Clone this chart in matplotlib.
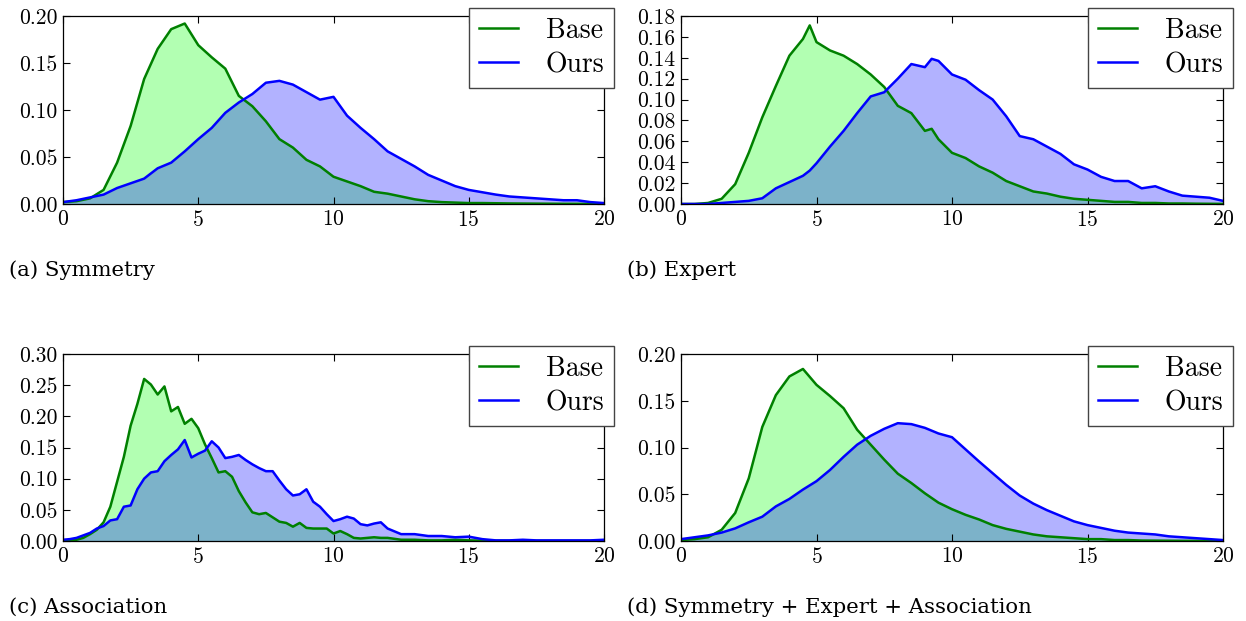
import numpy as np
import matplotlib
matplotlib.use("Agg")
import matplotlib.pyplot as plt
from matplotlib.ticker import FixedLocator, FormatStrFormatter

plt.rcParams['font.family'] = 'cmr10'
plt.rcParams['mathtext.fontset'] = 'cm'
plt.rcParams['axes.formatter.use_mathtext'] = True
plt.rcParams['axes.unicode_minus'] = False

# ---------------- data ----------------
series_labels = ["Base", "Ours"]
captions = ["(a) Symmetry", "(b) Expert", "(c) Association",
            "(d) Symmetry + Expert + Association"]

x_half = [i * 0.5 for i in range(41)]

# (a) Symmetry
x_a = x_half
base_a = [0.002, 0.003, 0.006, 0.015, 0.044, 0.083, 0.133, 0.165, 0.186, 0.192,
          0.169, 0.156, 0.144, 0.115, 0.104, 0.088, 0.069, 0.060, 0.047, 0.040,
          0.029, 0.024, 0.019, 0.013, 0.011, 0.008, 0.005, 0.003, 0.002, 0.0015,
          0.001, 0.001, 0.0008, 0.0006, 0.0005, 0.0004, 0.0003, 0.0002, 0.0002,
          0.0001, 0.0001]
ours_a = [0.002, 0.004, 0.007, 0.010, 0.017, 0.022, 0.027, 0.038, 0.044, 0.056,
          0.069, 0.081, 0.097, 0.108, 0.117, 0.129, 0.131, 0.127, 0.119, 0.111,
          0.114, 0.094, 0.081, 0.069, 0.056, 0.048, 0.040, 0.031, 0.025, 0.019,
          0.015, 0.0125, 0.010, 0.008, 0.007, 0.006, 0.005, 0.004, 0.004, 0.002,
          0.001]

# (b) Expert
x_b = [0, 0.5, 1, 1.5, 2, 2.5, 3, 3.5, 4, 4.5, 4.75, 5, 5.5, 6, 6.5, 7, 7.5, 8,
       8.5, 9, 9.25, 9.5, 10, 10.5, 11, 11.5, 12, 12.5, 13, 13.5, 14, 14.5, 15,
       15.5, 16, 16.5, 17, 17.5, 18, 18.5, 19, 19.5, 20]
base_b = [0.0, 0.0, 0.001, 0.005, 0.019, 0.049, 0.083, 0.113, 0.142, 0.158, 0.171,
          0.155, 0.147, 0.142, 0.134, 0.124, 0.112, 0.094, 0.087, 0.070, 0.072,
          0.062, 0.049, 0.044, 0.036, 0.030, 0.022, 0.017, 0.012, 0.010, 0.007,
          0.005, 0.004, 0.003, 0.002, 0.002, 0.001, 0.001, 0.0005, 0.0005, 0.0003,
          0.0002, 0.0001]
ours_b = [0.0, 0.0, 0.0, 0.001, 0.002, 0.003, 0.0055, 0.015, 0.021, 0.027, 0.032,
          0.039, 0.055, 0.070, 0.087, 0.103, 0.107, 0.120, 0.134, 0.131, 0.139,
          0.137, 0.124, 0.119, 0.109, 0.100, 0.084, 0.065, 0.062, 0.055, 0.048,
          0.038, 0.033, 0.026, 0.022, 0.022, 0.015, 0.017, 0.012, 0.008, 0.007,
          0.006, 0.003]

# (c) Association
x_c = [i * 0.25 for i in range(49)] + [12.5 + i * 0.5 for i in range(16)]
base_c = [0.001, 0.001, 0.002, 0.005, 0.011, 0.018, 0.030, 0.055, 0.095, 0.135,
          0.185, 0.220, 0.260, 0.251, 0.235, 0.248, 0.208, 0.215, 0.188, 0.196,
          0.181, 0.155, 0.133, 0.110, 0.112, 0.103, 0.080, 0.062, 0.046, 0.043,
          0.045, 0.038, 0.031, 0.029, 0.023, 0.029, 0.021, 0.020, 0.020, 0.020,
          0.012, 0.016, 0.011, 0.005, 0.004, 0.005, 0.006, 0.005, 0.005,
          0.002, 0.002, 0.001, 0.001, 0.002, 0.001, 0.0005, 0.0003, 0.0002,
          0.0002, 0.0001, 0.0001, 0.0001, 0.0001, 0.0001, 0.0001]
ours_c = [0.002, 0.003, 0.005, 0.009, 0.013, 0.020, 0.024, 0.033, 0.035, 0.055,
          0.057, 0.083, 0.100, 0.110, 0.112, 0.128, 0.138, 0.147, 0.162, 0.134,
          0.140, 0.145, 0.160, 0.150, 0.133, 0.135, 0.138, 0.130, 0.123, 0.117,
          0.112, 0.112, 0.097, 0.083, 0.073, 0.075, 0.083, 0.063, 0.055, 0.043,
          0.032, 0.035, 0.039, 0.036, 0.027, 0.025, 0.028, 0.030, 0.020,
          0.011, 0.011, 0.008, 0.008, 0.006, 0.007, 0.003, 0.001, 0.001, 0.002,
          0.001, 0.001, 0.001, 0.001, 0.001, 0.002]

# (d) Symmetry + Expert + Association
x_d = x_half
base_d = [0.001, 0.002, 0.004, 0.012, 0.030, 0.067, 0.122, 0.156, 0.176, 0.184,
          0.167, 0.155, 0.142, 0.119, 0.103, 0.087, 0.072, 0.062, 0.051, 0.041,
          0.034, 0.028, 0.023, 0.017, 0.013, 0.010, 0.007, 0.005, 0.004, 0.003,
          0.002, 0.002, 0.001, 0.001, 0.0005, 0.0004, 0.0003, 0.0002, 0.0002,
          0.0001, 0.0001]
ours_d = [0.002, 0.004, 0.006, 0.009, 0.0135, 0.020, 0.026, 0.037, 0.045, 0.055,
          0.064, 0.076, 0.090, 0.103, 0.1125, 0.120, 0.126, 0.125, 0.121, 0.115,
          0.111, 0.098, 0.085, 0.0725, 0.060, 0.0486, 0.040, 0.033, 0.027, 0.021,
          0.017, 0.014, 0.011, 0.009, 0.008, 0.007, 0.005, 0.004, 0.003, 0.002,
          0.001]

x_ticks = [0, 5, 10, 15, 20]
y_ticks_a = [0.00, 0.05, 0.10, 0.15, 0.20]
y_ticks_b = [0.00, 0.02, 0.04, 0.06, 0.08, 0.10, 0.12, 0.14, 0.16, 0.18]
y_ticks_c = [0.00, 0.05, 0.10, 0.15, 0.20, 0.25, 0.30]
y_ticks_d = [0.00, 0.05, 0.10, 0.15, 0.20]

panels = [
    (x_a, base_a, ours_a, y_ticks_a),
    (x_b, base_b, ours_b, y_ticks_b),
    (x_c, base_c, ours_c, y_ticks_c),
    (x_d, base_d, ours_d, y_ticks_d),
]

# ---------------- figure ----------------
W, H = 1246, 621
fig = plt.figure(figsize=(W / 100, H / 100), dpi=100)

# axes boxes in pixels: left, top, right, bottom
boxes = [(63, 16, 604, 204), (681, 16, 1223, 204),
         (63, 354, 604, 541), (681, 354, 1223, 541)]
cap_pos = [(9, 276), (627, 276), (9, 613), (627, 613)]

for (xs, base, ours, yt), (l, t, r, b), cap, (cx, cy) in zip(panels, boxes, captions, cap_pos):
    ax = fig.add_axes([l / W, 1 - b / H, (r - l) / W, (b - t) / H])
    ax.fill_between(xs, base, 0, color='lime', alpha=0.3, linewidth=0)
    ax.plot(xs, base, color=(0, 0.5, 0), lw=1.8, label=series_labels[0],
            solid_joinstyle='round')
    ax.fill_between(xs, ours, 0, color='blue', alpha=0.3, linewidth=0)
    ax.plot(xs, ours, color='blue', lw=1.8, label=series_labels[1],
            solid_joinstyle='round')
    ax.set_xlim(0, 20)
    ax.set_ylim(yt[0], yt[-1])
    ax.xaxis.set_major_locator(FixedLocator(x_ticks))
    ax.yaxis.set_major_locator(FixedLocator(yt))
    ax.yaxis.set_major_formatter(FormatStrFormatter('%.2f'))
    ax.tick_params(direction='in', top=True, right=True, length=5, width=0.8,
                   labelsize=15.5, pad=4)
    for s in ax.spines.values():
        s.set_linewidth(0.9)
        s.set_color('black')
    leg = ax.legend(loc='upper right', bbox_to_anchor=(1 + 10 / (r - l), 1 + 8.5 / (b - t)),
                    borderaxespad=0, fancybox=False, framealpha=1, fontsize=20,
                    handlelength=1.4, handletextpad=1.0, labelspacing=0.3,
                    borderpad=0.35)
    leg.get_frame().set_edgecolor('#444444')
    leg.get_frame().set_linewidth(1.0)
    fig.text(cx / W, 1 - cy / H, cap, family='DejaVu Serif', fontsize=15.3,
             ha='left', va='baseline')

fig.savefig('out.png', dpi=100)
